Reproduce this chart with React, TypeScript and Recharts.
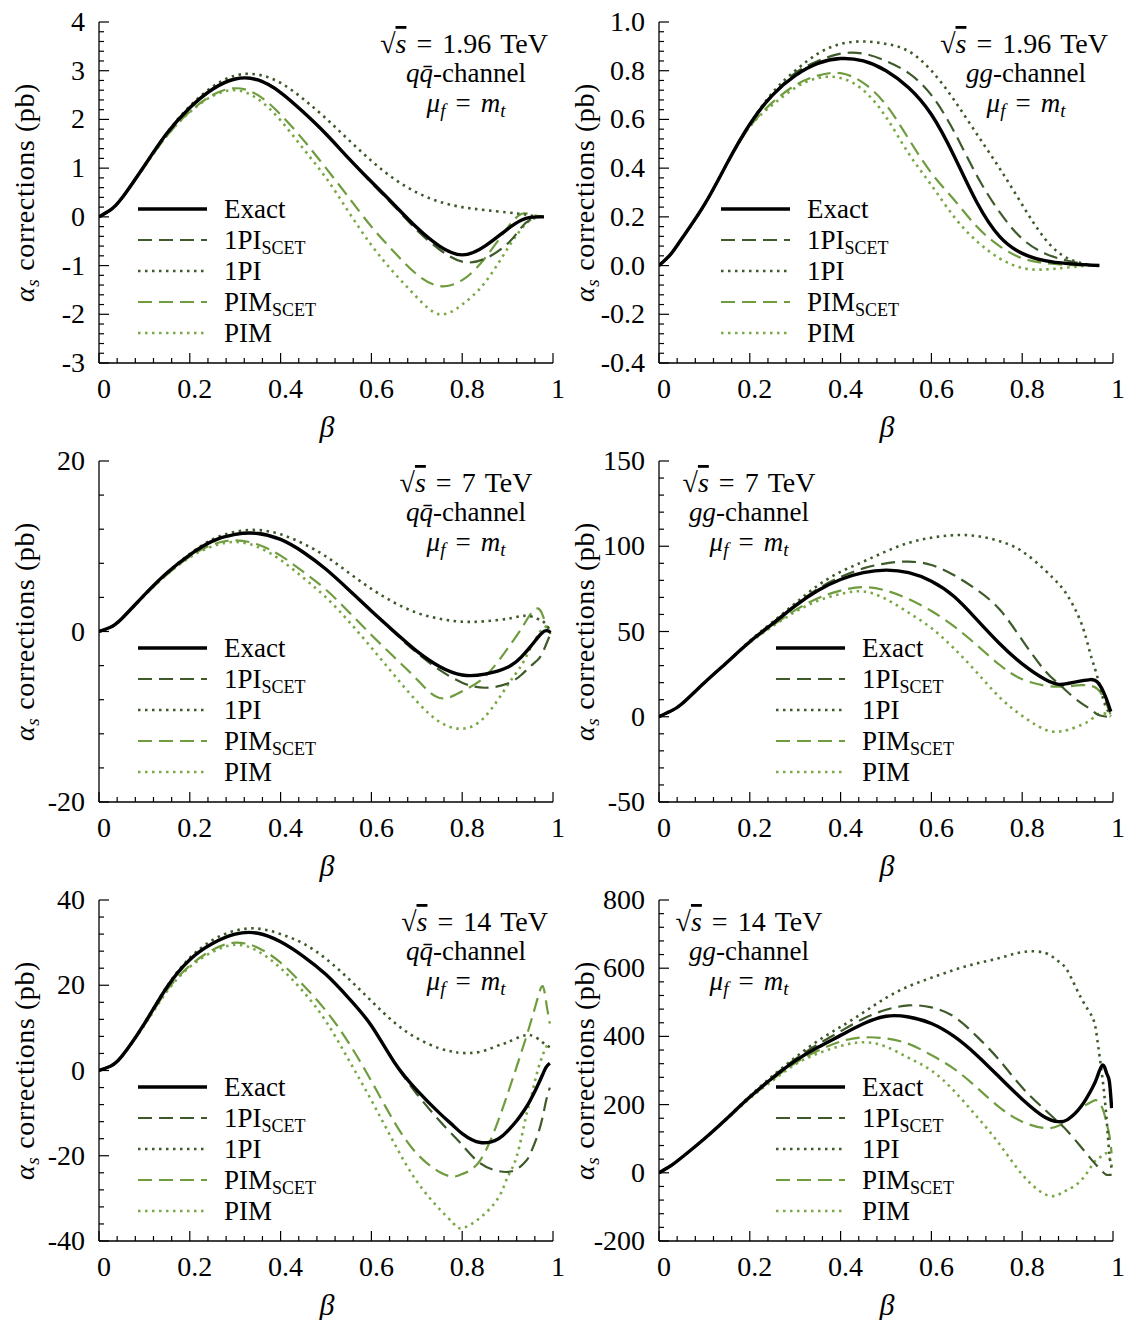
import React from 'react';
import { LineChart, Line, XAxis, YAxis, Legend } from 'recharts';

const FONT = '"Liberation Serif", "Times New Roman", serif';
const DARK = '#3e5a2a';
const LIGHT = '#6f9c3f';
const LIGHT_DOT = '#7ba846';

// x axis ticks
const xTicks = [0, 0.2, 0.4, 0.6, 0.8, 1];
const xTickLabels = ['0', '0.2', '0.4', '0.6', '0.8', '1'];

// 1.96 TeV, q qbar
const tlBeta = [0, 0.025, 0.05, 0.1, 0.15, 0.2, 0.25, 0.3, 0.35, 0.4, 0.45, 0.5, 0.55, 0.6, 0.65, 0.7, 0.75, 0.8, 0.85, 0.9, 0.93, 0.95, 0.97, 0.98];
const tlExact = [0, 0.14, 0.38, 1.05, 1.72, 2.24, 2.62, 2.83, 2.81, 2.55, 2.15, 1.7, 1.2, 0.72, 0.25, -0.22, -0.6, -0.78, -0.6, -0.25, -0.07, -0.01, 0, 0];
const tl1PIScet = [0, 0.14, 0.38, 1.05, 1.72, 2.24, 2.62, 2.83, 2.82, 2.56, 2.15, 1.7, 1.2, 0.7, 0.22, -0.27, -0.67, -0.92, -0.86, -0.55, -0.22, -0.06, 0, 0];
const tl1PI = [0, 0.14, 0.38, 1.05, 1.73, 2.27, 2.67, 2.9, 2.92, 2.75, 2.42, 2.02, 1.58, 1.15, 0.78, 0.5, 0.31, 0.2, 0.14, 0.09, 0.06, 0.03, 0.01, 0];
const tlPIMScet = [0, 0.14, 0.38, 1.03, 1.67, 2.16, 2.5, 2.64, 2.5, 2.1, 1.58, 1.0, 0.4, -0.2, -0.72, -1.18, -1.42, -1.3, -0.85, -0.22, 0.06, 0.05, 0.01, 0];
const tlPIM = [0, 0.14, 0.38, 1.03, 1.67, 2.15, 2.48, 2.6, 2.42, 1.98, 1.4, 0.8, 0.1, -0.58, -1.15, -1.65, -2.0, -1.8, -1.35, -0.65, -0.25, -0.07, 0, 0];
const tlYTicks = [-3, -2, -1, 0, 1, 2, 3, 4];

// 1.96 TeV, gg
const trBeta = [0, 0.025, 0.05, 0.1, 0.15, 0.2, 0.25, 0.3, 0.35, 0.4, 0.45, 0.5, 0.55, 0.6, 0.65, 0.7, 0.75, 0.8, 0.85, 0.9, 0.95, 0.97];
const trExact = [0, 0.045, 0.11, 0.25, 0.42, 0.58, 0.7, 0.78, 0.83, 0.85, 0.84, 0.8, 0.73, 0.62, 0.45, 0.26, 0.12, 0.05, 0.02, 0.008, 0.002, 0];
const tr1PIScet = [0, 0.045, 0.11, 0.25, 0.42, 0.58, 0.7, 0.79, 0.84, 0.87, 0.87, 0.84, 0.79, 0.7, 0.55, 0.37, 0.22, 0.11, 0.05, 0.02, 0.003, 0];
const tr1PI = [0, 0.045, 0.11, 0.25, 0.42, 0.58, 0.71, 0.8, 0.87, 0.91, 0.92, 0.91, 0.88, 0.8, 0.68, 0.54, 0.4, 0.25, 0.11, 0.03, 0.003, 0];
const trPIMScet = [0, 0.045, 0.11, 0.25, 0.42, 0.57, 0.67, 0.74, 0.78, 0.79, 0.75, 0.66, 0.52, 0.38, 0.27, 0.16, 0.08, 0.03, 0.01, 0.003, 0, 0];
const trPIM = [0, 0.045, 0.11, 0.25, 0.42, 0.57, 0.66, 0.73, 0.77, 0.77, 0.72, 0.61, 0.46, 0.33, 0.2, 0.1, 0.03, -0.01, -0.016, -0.008, 0, 0];
const trYTicks = [-0.4, -0.2, 0, 0.2, 0.4, 0.6, 0.8, 1.0];

// 7 TeV, q qbar
const mlBeta = [0, 0.025, 0.05, 0.1, 0.15, 0.2, 0.25, 0.3, 0.35, 0.4, 0.45, 0.5, 0.55, 0.6, 0.65, 0.7, 0.75, 0.8, 0.85, 0.9, 0.93, 0.95, 0.965, 0.975, 0.985, 0.995];
const mlExact = [0, 0.5, 1.5, 4.3, 6.9, 9.0, 10.6, 11.4, 11.5, 10.8, 9.3, 7.3, 4.9, 2.4, 0.0, -2.3, -4.1, -5.1, -5.0, -4.2, -3.0, -1.8, -0.8, -0.2, 0.1, -0.1];
const ml1PIScet = [0, 0.5, 1.5, 4.3, 6.9, 9.0, 10.6, 11.4, 11.5, 10.8, 9.3, 7.3, 4.9, 2.4, -0.1, -2.5, -4.5, -6.0, -6.6, -6.1, -5.1, -4.1, -3.4, -2.7, -1.5, -0.2];
const ml1PI = [0, 0.5, 1.5, 4.3, 6.9, 9.1, 10.8, 11.7, 11.9, 11.4, 10.3, 8.8, 6.9, 5.0, 3.4, 2.2, 1.5, 1.15, 1.2, 1.5, 1.8, 1.8, 1.5, 1.3, 0.8, 0];
const mlPIMScet = [0, 0.5, 1.5, 4.2, 6.7, 8.8, 10.2, 10.7, 10.2, 8.9, 7.0, 4.9, 2.3, -0.4, -3.0, -5.6, -7.8, -7.0, -5.3, -2.0, 0.3, 2.0, 2.7, 2.2, 0.8, -0.3];
const mlPIM = [0, 0.5, 1.5, 4.2, 6.7, 8.7, 10.0, 10.5, 9.9, 8.4, 6.3, 4.0, 1.2, -1.9, -5.1, -8.2, -10.6, -11.4, -10.0, -6.3, -4.0, -2.0, -0.6, 0.2, 0.6, 0.9];
const mlYTicks = [-20, 0, 20];

// 7 TeV, gg
const mrBeta = [0, 0.025, 0.05, 0.1, 0.15, 0.2, 0.25, 0.3, 0.35, 0.4, 0.45, 0.5, 0.55, 0.6, 0.65, 0.7, 0.75, 0.8, 0.85, 0.88, 0.9, 0.93, 0.95, 0.965, 0.98, 0.99, 0.995];
const mrExact = [0, 3.2, 7.5, 20, 32, 44, 54.5, 65, 74, 80.5, 84.5, 86, 84.5, 79.5, 70.5, 57, 43, 31, 22, 19, 19.5, 21, 21.8, 20.5, 14, 7, 3];
const mr1PIScet = [0, 3.2, 7.5, 20, 32, 44, 55, 65.5, 75, 82, 87, 90, 91, 89, 83, 74.5, 63, 45, 27, 19.5, 14.5, 8, 4.5, 1.5, 0.3, 0, 0];
const mr1PI = [0, 3.2, 7.5, 20, 32, 44.5, 55.5, 66.5, 77, 85, 91, 97, 102, 105, 106.5, 106, 103, 97, 86, 78, 71, 55, 37, 24, 9, 3, 0.5];
const mrPIMScet = [0, 3.2, 7.5, 20, 32, 43.5, 53.5, 62.5, 69.5, 74, 76, 74, 69, 62, 53, 42, 30.5, 22, 18.3, 17.6, 17.8, 18.5, 18.2, 16.5, 11, 4.5, 1];
const mrPIM = [0, 3.2, 7.5, 20, 32, 43.5, 53, 61.5, 68, 72, 73.5, 69, 61, 52, 40, 26, 11.5, 0.5, -7.5, -8.7, -7.8, -4.8, -2, 1.2, 2, 1, 0];
const mrYTicks = [-50, 0, 50, 100, 150];

// 14 TeV, q qbar
const blBeta = [0, 0.025, 0.05, 0.1, 0.15, 0.2, 0.25, 0.3, 0.35, 0.4, 0.45, 0.5, 0.55, 0.6, 0.65, 0.7, 0.75, 0.78, 0.8, 0.84, 0.88, 0.9, 0.92, 0.94, 0.95, 0.965, 0.977, 0.985, 0.993];
const blExact = [0, 1.0, 3.3, 11, 19.6, 26, 29.8, 32, 32.2, 30.2, 26.8, 22.5, 17, 10.5, 2, -4.6, -10, -12.9, -14.8, -16.9, -16, -14.2, -11.8, -8.8, -7, -3.8, -1, 0.8, 1.7];
const bl1PIScet = [0, 1.0, 3.3, 11, 19.6, 26, 29.8, 32, 32.2, 30.2, 26.8, 22.5, 17, 10.5, 2, -5.5, -11.8, -15.2, -17.5, -21.8, -23.6, -23.8, -23.2, -21.3, -19.5, -15.5, -11, -7, -4];
const bl1PI = [0, 1.0, 3.3, 11.1, 19.8, 26.4, 30.6, 32.8, 33.3, 32, 29.8, 26.2, 21.5, 16.3, 11.3, 7.6, 5.2, 4.4, 4.1, 4.4, 5.9, 6.6, 7.6, 8.3, 8.3, 7.6, 6.6, 6, 5.5];
const blPIMScet = [0, 1.0, 3.3, 10.7, 18.9, 24.6, 28.3, 30, 28.8, 25.3, 20, 14, 6.5, -2.5, -12, -19.5, -23.8, -24.9, -24.3, -21, -11.6, -5.5, 0.9, 7.5, 11, 16.5, 19.8, 16, 11];
const blPIM = [0, 1.0, 3.3, 10.6, 18.6, 24.3, 27.8, 29.5, 28, 24, 18.5, 11.5, 2.5, -7, -17, -26, -32.5, -35.8, -37, -34.5, -29.8, -25, -20.2, -11, -7, -0.5, 3.5, 5.5, 6.4];
const blYTicks = [-40, -20, 0, 20, 40];

// 14 TeV, gg
const brBeta = [0, 0.025, 0.05, 0.1, 0.15, 0.2, 0.25, 0.3, 0.35, 0.4, 0.45, 0.5, 0.55, 0.6, 0.65, 0.7, 0.75, 0.8, 0.85, 0.88, 0.9, 0.93, 0.955, 0.965, 0.977, 0.986, 0.992, 0.997];
const brExact = [0, 20, 45, 100, 160, 222, 278, 328, 368, 403, 437, 459, 457, 438, 400, 345, 280, 216, 163, 150, 156, 195, 250, 280, 316, 292, 268, 190];
const br1PIScet = [0, 20, 45, 100, 160, 223, 281, 333, 377, 415, 452, 478, 491, 485, 458, 400, 330, 250, 185, 148, 122, 75, 35, 20, 3, -6, -6, -6];
const br1PI = [0, 20, 45, 100, 161, 225, 284, 338, 387, 428, 470, 513, 547, 572, 595, 614, 630, 647, 645, 620, 592, 512, 455, 395, 275, 155, 55, 15];
const brPIMScet = [0, 20, 45, 100, 159, 220, 274, 322, 358, 385, 397, 394, 378, 345, 305, 250, 192, 150, 131, 138, 157, 190, 210, 212, 188, 145, 110, 57];
const brPIM = [0, 20, 45, 100, 158, 218, 270, 318, 350, 372, 383, 370, 337, 300, 240, 165, 84, -5, -63, -64, -50, -22, 25, 38, 52, 57, 45, 18];
const brYTicks = [-200, 0, 200, 400, 600, 800];

const SERIES = [
  { key: 'exact', name: 'Exact', sub: '', color: '#000', width: 3.4, dash: undefined as string | undefined },
  { key: 'pi1Scet', name: '1PI', sub: 'SCET', color: DARK, width: 2.2, dash: '14 7' },
  { key: 'pi1', name: '1PI', sub: '', color: DARK, width: 2.6, dash: '2.5 4.5' },
  { key: 'pimScet', name: 'PIM', sub: 'SCET', color: LIGHT, width: 2.2, dash: '14 7' },
  { key: 'pim', name: 'PIM', sub: '', color: LIGHT_DOT, width: 2.6, dash: '2.5 4.5' },
];

// chart geometry
const W = 568;
const H = 450;
const PL = 99;
const PT = 22;
const PW = 454;
const PH = 341;
const XAXIS_H = 30;
const MARGIN = { top: PT, right: W - PL - PW, bottom: H - PT - PH - XAXIS_H, left: 0 };

const withMinor = (major: number[]) => {
  const out: number[] = [];
  for (let i = 0; i < major.length - 1; i++) {
    for (let k = 0; k < 5; k++) out.push(major[i] + ((major[i + 1] - major[i]) * k) / 5);
  }
  out.push(major[major.length - 1]);
  return out;
};

const majorIndex = (v: number, major: number[]) =>
  major.findIndex((m) => Math.abs(m - v) < 1e-6 * (1 + Math.abs(m)));

type Side = 'bottom' | 'top' | 'left' | 'right';

const makeTick = (side: Side, major: number[], labels?: string[]) => (props: any) => {
  const v = props.payload.value;
  const idx = majorIndex(v, major);
  const len = idx >= 0 ? 10 : 5;
  const label = idx >= 0 && labels ? labels[idx] : null;
  const st = { stroke: '#000', strokeWidth: 1.2 };
  if (side === 'bottom') {
    const x = props.x;
    const y = PT + PH;
    return (
      <g>
        <line x1={x} x2={x} y1={y} y2={y - len} {...st} />
        {label && (
          <text x={x + 5} y={y + 35} textAnchor="middle" fontSize={28} fontFamily={FONT} fill="#000">
            {label}
          </text>
        )}
      </g>
    );
  }
  if (side === 'top') {
    const x = props.x;
    return <line x1={x} x2={x} y1={PT} y2={PT + len} {...st} />;
  }
  if (side === 'left') {
    const y = props.y;
    return (
      <g>
        <line x1={PL} x2={PL + len} y1={y} y2={y} {...st} />
        {label && (
          <text x={PL - 14} y={y + 9} textAnchor="end" fontSize={28} fontFamily={FONT} fill="#000">
            {label}
          </text>
        )}
      </g>
    );
  }
  const y = props.y;
  return <line x1={PL + PW} x2={PL + PW - len} y1={y} y2={y} {...st} />;
};

const LegendBox = () => (
  <svg width={280} height={160} style={{ display: 'block' }}>
    {SERIES.map((s, i) => {
      const y = 15 + i * 31;
      return (
        <g key={s.key}>
          <line x1={0} x2={69} y1={y} y2={y} stroke={s.color} strokeWidth={s.width} strokeDasharray={s.dash} />
          <text x={86} y={y + 9} fontSize={27} fontFamily={FONT} fill="#000">
            {s.name}
            {s.sub && (
              <tspan fontSize={18} dy={5}>
                {s.sub}
              </tspan>
            )}
          </text>
        </g>
      );
    })}
  </svg>
);

interface PanelSpec {
  left: number;
  top: number;
  beta: number[];
  values: number[][];
  yTicks: number[];
  yLabels: string[];
  energy: string;
  channel: 'qq' | 'gg';
  note: 'right' | 'center' | 'left';
  legendX: number;
}

const intLabels = (t: number[]) => t.map((v) => String(v));

const PANELS: PanelSpec[] = [
  { left: 0, top: 0, beta: tlBeta, values: [tlExact, tl1PIScet, tl1PI, tlPIMScet, tlPIM], yTicks: tlYTicks, yLabels: intLabels(tlYTicks), energy: '1.96', channel: 'qq', note: 'right', legendX: 138 },
  { left: 560, top: 0, beta: trBeta, values: [trExact, tr1PIScet, tr1PI, trPIMScet, trPIM], yTicks: trYTicks, yLabels: trYTicks.map((v) => v.toFixed(1)), energy: '1.96', channel: 'gg', note: 'right', legendX: 161 },
  { left: 0, top: 439, beta: mlBeta, values: [mlExact, ml1PIScet, ml1PI, mlPIMScet, mlPIM], yTicks: mlYTicks, yLabels: intLabels(mlYTicks), energy: '7', channel: 'qq', note: 'center', legendX: 138 },
  { left: 560, top: 439, beta: mrBeta, values: [mrExact, mr1PIScet, mr1PI, mrPIMScet, mrPIM], yTicks: mrYTicks, yLabels: intLabels(mrYTicks), energy: '7', channel: 'gg', note: 'left', legendX: 216 },
  { left: 0, top: 878, beta: blBeta, values: [blExact, bl1PIScet, bl1PI, blPIMScet, blPIM], yTicks: blYTicks, yLabels: intLabels(blYTicks), energy: '14', channel: 'qq', note: 'right', legendX: 138 },
  { left: 560, top: 878, beta: brBeta, values: [brExact, br1PIScet, br1PI, brPIMScet, brPIM], yTicks: brYTicks, yLabels: intLabels(brYTicks), energy: '14', channel: 'gg', note: 'left', legendX: 216 },
];

const Notes: React.FC<{ p: PanelSpec }> = ({ p }) => {
  const cx = p.note === 'left' ? PL + 90 : PL + 367;
  const l1x = p.note === 'right' ? PL + PW - 5 : cx;
  const l1a = p.note === 'right' ? 'end' : 'middle';
  const q = p.channel === 'qq';
  return (
    <g fontFamily={FONT} fontSize={27} fill="#000">
      <text x={l1x} y={PT + 31} textAnchor={l1a} fontSize={28}>
        <tspan>√</tspan>
        <tspan fontStyle="italic" textDecoration="overline">s</tspan>
        <tspan dx={10}>=</tspan>
        <tspan dx={10}>{p.energy}</tspan>
        <tspan dx={9}>TeV</tspan>
      </text>
      <text x={cx} y={PT + 60} textAnchor="middle">
        <tspan fontStyle="italic">{q ? 'qq\u0304' : 'gg'}</tspan>
        <tspan>-channel</tspan>
      </text>
      <text x={cx} y={PT + 90} textAnchor="middle">
        <tspan fontStyle="italic">μ</tspan>
        <tspan fontStyle="italic" fontSize={19} dy={5}>f</tspan>
        <tspan dy={-5} dx={10}>=</tspan>
        <tspan dx={10} fontStyle="italic">m</tspan>
        <tspan fontStyle="italic" fontSize={19} dy={5}>t</tspan>
      </text>
    </g>
  );
};

const Panel: React.FC<{ p: PanelSpec }> = ({ p }) => {
  const data = p.beta.map((b, i) => ({
    b,
    exact: p.values[0][i],
    pi1Scet: p.values[1][i],
    pi1: p.values[2][i],
    pimScet: p.values[3][i],
    pim: p.values[4][i],
  }));
  const yDomain: [number, number] = [p.yTicks[0], p.yTicks[p.yTicks.length - 1]];
  const xAll = withMinor(xTicks);
  const yAll = withMinor(p.yTicks);
  const axisLine = { stroke: '#000', strokeWidth: 1.3 };
  return (
    <div style={{ position: 'absolute', left: p.left, top: p.top, width: W, height: H }}>
      <LineChart width={W} height={H} data={data} margin={MARGIN}>
        <XAxis dataKey="b" type="number" domain={[0, 1]} ticks={xAll} interval={0} height={XAXIS_H}
          tickLine={false} axisLine={axisLine} tick={makeTick('bottom', xTicks, xTickLabels)} allowDataOverflow />
        <XAxis xAxisId="top" orientation="top" dataKey="b" type="number" domain={[0, 1]} ticks={xAll} interval={0}
          height={0} tickLine={false} axisLine={axisLine} tick={makeTick('top', xTicks)} allowDataOverflow />
        <YAxis type="number" domain={yDomain} ticks={yAll} interval={0} width={PL} tickLine={false}
          axisLine={axisLine} tick={makeTick('left', p.yTicks, p.yLabels)} allowDataOverflow />
        <YAxis yAxisId="right" orientation="right" type="number" domain={yDomain} ticks={yAll} interval={0} width={0}
          tickLine={false} axisLine={axisLine} tick={makeTick('right', p.yTicks)} allowDataOverflow />
        {[...SERIES].reverse().map((s) => (
          <Line key={s.key} dataKey={s.key} type="natural" stroke={s.color} strokeWidth={s.width}
            strokeDasharray={s.dash} dot={false} activeDot={false} isAnimationActive={false} />
        ))}
        <Legend layout="vertical" align="center" verticalAlign="middle" content={() => <LegendBox />}
          wrapperStyle={{ left: p.legendX, top: PT + 187 - 15, width: 280, height: 160, margin: 0 }} />
      </LineChart>
      <svg width={W} height={H} style={{ position: 'absolute', left: 0, top: 0, pointerEvents: 'none', overflow: 'visible' }}>
        <text transform={`translate(34 ${PT + PH / 2}) rotate(-90)`} textAnchor="middle" fontSize={28}
          fontFamily={FONT} fill="#000" letterSpacing={0.6}>
          <tspan fontStyle="italic">α</tspan>
          <tspan fontStyle="italic" fontSize={19} dy={5}>s</tspan>
          <tspan dy={-5} dx={8}>corrections (pb)</tspan>
        </text>
        <text x={PL + PW / 2 + 1} y={PT + PH + 74} textAnchor="middle" fontStyle="italic" fontSize={30}
          fontFamily={FONT} fill="#000">
          β
        </text>
        <Notes p={p} />
      </svg>
    </div>
  );
};

export default function App() {
  return (
    <div style={{ position: 'absolute', left: 0, top: 0, width: 1127, height: 1320, background: '#fff', overflow: 'hidden' }}>
      {PANELS.map((p, i) => (
        <Panel key={i} p={p} />
      ))}
    </div>
  );
}
